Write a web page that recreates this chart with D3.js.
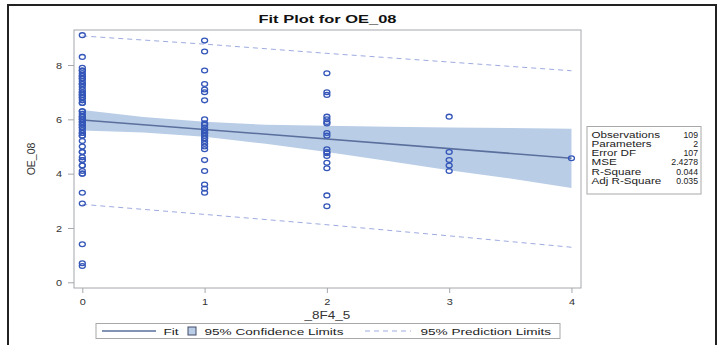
<!DOCTYPE html>
<html>
<head>
<meta charset="utf-8">
<script src="https://cdn.jsdelivr.net/npm/d3@7"></script>
<style>
  body { margin: 0; background: #fff; }
  svg { display: block; font-family: "Liberation Sans", Arial, sans-serif; }
</style>
</head>
<body>
<svg width="718" height="345"></svg>
<script>
// observed OE_08 values, one list per _8F4_5 level
const yAtX0 = [9.1, 8.3, 7.9, 7.8, 7.8, 7.7, 7.6, 7.6, 7.5, 7.5, 7.4, 7.3, 7.3, 7.2, 7.1, 7.0, 7.0,
  6.9, 6.9, 6.8, 6.8, 6.7, 6.6, 6.6, 6.3, 6.3, 6.2, 6.1, 6.1, 6.0, 6.0, 5.9, 5.9, 5.8, 5.8,
  5.7, 5.7, 5.6, 5.5, 5.5, 5.4, 5.4, 5.2, 5.0, 4.8, 4.8, 4.6, 4.5, 4.5, 4.3, 4.3, 4.1, 4.0,
  4.0, 3.3, 2.9, 1.4, 0.7, 0.6];
const yAtX1 = [8.9, 8.5, 7.8, 7.3, 7.1, 7.0, 6.7, 6.0, 5.85, 5.8, 5.7, 5.6, 5.6, 5.5, 5.5, 5.4,
  5.3, 5.3, 5.2, 5.1, 5.0, 4.9, 4.5, 4.1, 3.6, 3.45, 3.3];
const yAtX2 = [7.7, 7.0, 6.9, 6.1, 6.0, 5.9, 5.85, 5.5, 5.4, 4.9, 4.8, 4.75, 4.65, 4.4, 4.2, 3.2, 2.8];
const yAtX3 = [6.1, 4.8, 4.5, 4.3, 4.1];
const yAtX4 = [4.57];

const fitX = [0, 4];
const fitY = [5.98, 4.57];

const ciX = [0, 0.5, 1, 1.5, 2, 2.5, 3, 3.5, 4];
const ciUpper = [6.34, 6.09, 5.91, 5.80, 5.76, 5.73, 5.70, 5.68, 5.65];
const ciLower = [5.59, 5.52, 5.36, 5.10, 4.80, 4.47, 4.13, 3.82, 3.47];

const piX = [0, 1, 2, 3, 4];
const piUpper = [9.07, 8.77, 8.43, 8.11, 7.79];
const piLower = [2.87, 2.50, 2.12, 1.71, 1.29];

const xTicks = [0, 1, 2, 3, 4];
const yTicks = [0, 2, 4, 6, 8];

const statNames = ["Observations", "Parameters", "Error DF", "MSE", "R-Square", "Adj R-Square"];
const statValues = ["109", "2", "107", "2.4278", "0.044", "0.035"];

const legendLabels = ["Fit", "95% Confidence Limits", "95% Prediction Limits"];

const plot = {left: 74, top: 30, right: 581, bottom: 288};
const col = {marker: "#3456b8", fit: "#5a6f9c", band: "#b9cde7", pred: "#9eabe0",
  frame: "#a4a8ad", text: "#333"};

// the SAS output text is drawn wide: stretch a text horizontally by k
const stretch = function(sel, k) {
  sel.each(function() {
    const w = this.getComputedTextLength();
    d3.select(this).attr("textLength", w * k).attr("lengthAdjust", "spacingAndGlyphs");
  });
};

const svg = d3.select("svg");

// outer frame
svg.append("rect")
    .attr("x", 8).attr("y", 5).attr("width", 708).attr("height", 350)
    .attr("fill", "#fff").attr("stroke", "#222").attr("stroke-width", 2);

const x = d3.scaleLinear().domain([-0.068, 4.078]).range([plot.left, plot.right]);
const y = d3.scaleLinear().domain([-0.21, 9.29]).range([plot.bottom, plot.top]);

const groups = [yAtX0, yAtX1, yAtX2, yAtX3, yAtX4];
let points = [];
groups.forEach((vals, i) => vals.forEach(v => points.push({x: xTicks[i], y: v})));

// title
svg.append("text")
    .attr("x", (plot.left + plot.right) / 2).attr("y", 23)
    .attr("text-anchor", "middle")
    .attr("font-size", "11.5px").attr("font-weight", "bold").attr("fill", "#111")
    .text("Fit Plot for OE_08")
    .call(stretch, 1.43);

// confidence band
const band = ciX.map((d, i) => ({x: d, lo: ciLower[i], hi: ciUpper[i]}));
svg.append("path")
    .datum(band)
    .attr("fill", col.band)
    .attr("d", d3.area().x(d => x(d.x)).y0(d => y(d.lo)).y1(d => y(d.hi)));

// prediction limits
[piUpper, piLower].forEach(arr => {
  svg.append("path")
      .datum(piX.map((d, i) => [d, arr[i]]))
      .attr("fill", "none")
      .attr("stroke", col.pred).attr("stroke-width", 1)
      .attr("stroke-dasharray", "5,4")
      .attr("d", d3.line().x(d => x(d[0])).y(d => y(d[1])));
});

// fit line
svg.append("path")
    .datum(fitX.map((d, i) => [d, fitY[i]]))
    .attr("fill", "none")
    .attr("stroke", col.fit).attr("stroke-width", 1.5)
    .attr("d", d3.line().x(d => x(d[0])).y(d => y(d[1])));

// observations
svg.append("g").selectAll("ellipse")
    .data(points)
  .enter().append("ellipse")
    .attr("cx", d => x(d.x)).attr("cy", d => y(d.y))
    .attr("rx", 3).attr("ry", 2.4)
    .attr("fill", "none")
    .attr("stroke", col.marker).attr("stroke-width", 1.3);

// plot frame
svg.append("rect")
    .attr("x", plot.left).attr("y", plot.top)
    .attr("width", plot.right - plot.left).attr("height", plot.bottom - plot.top)
    .attr("fill", "none").attr("stroke", col.frame).attr("stroke-width", 1);

// axes
const xAxis = svg.append("g")
    .attr("transform", "translate(0," + plot.bottom + ")")
    .call(d3.axisBottom(x).tickValues(xTicks).tickSize(5).tickPadding(5).tickFormat(d3.format("d")));
const yAxis = svg.append("g")
    .attr("transform", "translate(" + plot.left + ",0)")
    .call(d3.axisLeft(y).tickValues(yTicks).tickSize(6).tickPadding(6).tickFormat(d3.format("d")));
[xAxis, yAxis].forEach(g => {
  g.select(".domain").remove();
  g.selectAll("line").attr("stroke", col.frame);
  g.selectAll("text").attr("fill", col.text)
      .attr("font-size", "9.5px").attr("font-family", "Liberation Sans, Arial, sans-serif")
      .call(stretch, 1.15);
});

// axis labels
svg.append("text")
    .attr("x", (plot.left + plot.right) / 2).attr("y", 319)
    .attr("text-anchor", "middle").attr("font-size", "10px").attr("fill", col.text)
    .text("_8F4_5")
    .call(stretch, 1.35);
svg.append("text")
    .attr("transform", "translate(35," + ((plot.top + plot.bottom) / 2) + ") rotate(-90)")
    .attr("text-anchor", "middle").attr("font-size", "10.5px").attr("fill", col.text)
    .text("OE_08");

// statistics table
const stats = svg.append("g");
stats.append("rect")
    .attr("x", 587).attr("y", 126.5).attr("width", 114).attr("height", 67.5)
    .attr("fill", "#fff").attr("stroke", "#a8a8a8");
statNames.forEach((name, i) => {
  const by = 137.8 + i * 9.2;
  stats.append("text").attr("x", 591.5).attr("y", by)
      .attr("font-size", "8.3px").attr("fill", "#222").text(name)
      .call(stretch, 1.4);
  stats.append("text").attr("x", 698).attr("y", by)
      .attr("text-anchor", "end")
      .attr("font-size", "8.3px").attr("fill", "#222").text(statValues[i])
      .call(stretch, 1.05);
});

// legend
const leg = svg.append("g");
leg.append("rect")
    .attr("x", 96).attr("y", 323.5).attr("width", 464).attr("height", 15)
    .attr("fill", "#fff").attr("stroke", "#a8a8a8");
const ly = 331;
leg.append("line").attr("x1", 102).attr("x2", 156).attr("y1", ly).attr("y2", ly)
    .attr("stroke", col.fit).attr("stroke-width", 1.5);
leg.append("rect").attr("x", 188).attr("y", ly - 4).attr("width", 8).attr("height", 8)
    .attr("fill", col.band).attr("stroke", "#444a66").attr("stroke-width", 1);
leg.append("line").attr("x1", 365).attr("x2", 411).attr("y1", ly).attr("y2", ly)
    .attr("stroke", col.pred).attr("stroke-width", 1).attr("stroke-dasharray", "5,4");
const legX = [163.5, 204.5, 420.5];
legendLabels.forEach((t, i) => {
  leg.append("text").attr("x", legX[i]).attr("y", ly + 3.5)
      .attr("font-size", "9.5px").attr("fill", "#222").text(t)
      .call(stretch, 1.43);
});
</script>
</body>
</html>
